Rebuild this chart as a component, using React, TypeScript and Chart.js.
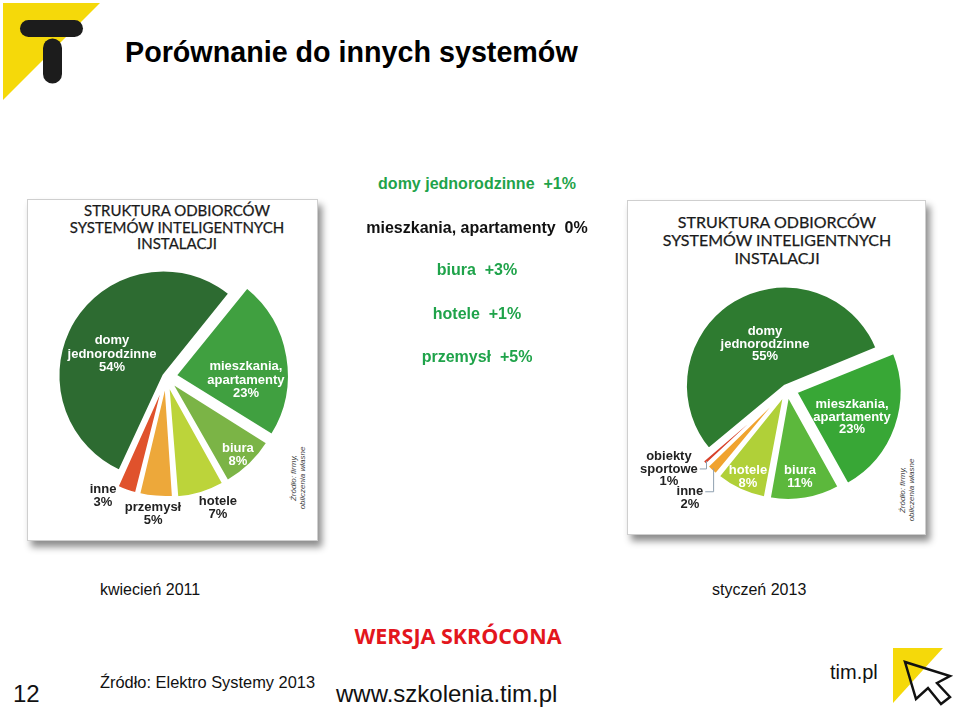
import React, { useEffect, useRef } from "react";
import { Chart, registerables } from "chart.js";
Chart.register(...registerables);

// ---------- DATA ----------
const leftCategories = ["mieszkania, apartamenty", "biura", "hotele", "przemysł", "inne", "domy jednorodzinne"];
const leftValues = [23, 8, 7, 5, 3, 54];

const rightCategories = ["mieszkania, apartamenty", "biura", "hotele", "inne", "obiekty sportowe", "domy jednorodzinne"];
const rightValues = [23, 11, 8, 2, 1, 55];

const changeCategories = ["domy jednorodzinne", "mieszkania, apartamenty", "biura", "hotele", "przemysł"];
const changeValues = ["+1%", "0%", "+3%", "+1%", "+5%"];

const leftCaption = "kwiecień 2011";
const rightCaption = "styczeń 2013";

// ---------- STYLES ----------
const leftColors = ["#40a040", "#7bb446", "#bcd43a", "#eda83a", "#e0522c", "#2d6b31"];
const rightColors = ["#38a736", "#5cb83c", "#b0d038", "#f0a32e", "#d8412a", "#2e7b30"];
const changeColors = ["#1fa34a", "#111111", "#1fa34a", "#1fa34a", "#1fa34a"];

type PieStyle = {
  rotation: number;
  radiusPx: number[];
  shiftPx: number[];
  labelDist: number[];
  labelShift: number[];
  labelColor: string[];
  leader: number[];
  lineHeight: number;
};

const leftStyle: PieStyle = {
  rotation: 39,
  radiusPx: [113, 113, 113, 113, 113, 105],
  shiftPx: [10, 8, 8, 7, 7, 3],
  labelDist: [80, 106, 141, 137.6, 134.6, 58.7],
  labelShift: [11.7, 1.1, -4.8, 0.6, 8.7, -8.7],
  labelColor: ["#fff", "#fff", "#222", "#222", "#222", "#fff"],
  leader: [-1, -1, -1, -1, -1, -1],
  lineHeight: 13.5,
};

const rightStyle: PieStyle = {
  rotation: 68,
  radiusPx: [105, 104, 104, 104, 104, 99],
  shiftPx: [10, 7, 7, 7, 7, 4],
  labelDist: [70.8, 89, 96.3, 146, 142.6, 50],
  labelShift: [3.9, 1, -0.9, -1.1, 7.7, 4.9],
  labelColor: ["#fff", "#fff", "#fff", "#222", "#222", "#fff"],
  leader: [-1, -1, -1, 0, 1, -1],
  lineHeight: 12.5,
};

function splitLabel(name: string, value: number): string[] {
  const lines = name.indexOf(" ") >= 0 ? name.split(" ") : [name];
  return [...lines, value + "%"];
}

function makeLabelPlugin(style: PieStyle, lines: string[][]) {
  return {
    id: "pieLabels",
    afterDatasetUpdate(chart: any, args: any) {
      const meta = chart.getDatasetMeta(args.index);
      meta.data.forEach((el: any, i: number) => {
        const c = el.circumference || 0;
        const fix = 1 - Math.sin(Math.min(Math.PI, c));
        el.outerRadius = style.radiusPx[i] - style.shiftPx[i] * fix;
      });
    },
    afterDatasetsDraw(chart: any) {
      const ctx = chart.ctx;
      const meta = chart.getDatasetMeta(0);
      meta.data.forEach((el: any, i: number) => {
        const { x, y, startAngle, endAngle } = el;
        const mid = (startAngle + endAngle) / 2;
        const a = mid + (style.labelShift[i] * Math.PI) / 180;
        const r = style.labelDist[i];
        const lx = x + Math.cos(a) * r;
        const ly = y + Math.sin(a) * r;
        const ls = lines[i];
        const lh = style.lineHeight;
        ctx.save();
        ctx.font = 'bold 13px "Liberation Sans", Arial, sans-serif';
        ctx.fillStyle = style.labelColor[i];
        ctx.textAlign = "center";
        ctx.textBaseline = "middle";
        const top = ly - ((ls.length - 1) * lh) / 2;
        ls.forEach((t, k) => ctx.fillText(t, lx, top + k * lh));
        const li = style.leader[i];
        if (li >= 0) {
          const w = ctx.measureText(ls[li]).width;
          const sx = lx + w / 2 + 2;
          const sy = top + li * lh;
          const reach = style.radiusPx[i] + style.shiftPx[i] - 3;
          const tx = x + Math.cos(mid) * reach;
          const ty = y + Math.sin(mid) * reach;
          ctx.strokeStyle = "#8fa0b0";
          ctx.lineWidth = 1;
          ctx.beginPath();
          ctx.moveTo(sx, sy);
          ctx.lineTo(tx, sy);
          ctx.lineTo(tx, ty);
          ctx.stroke();
        }
        ctx.restore();
      });
    },
  };
}

function PieCanvas(props: {
  categories: string[];
  values: number[];
  colors: string[];
  style: PieStyle;
  left: number;
  top: number;
  size: number;
}) {
  const ref = useRef<HTMLCanvasElement | null>(null);
  useEffect(() => {
    if (!ref.current) return;
    const lines = props.categories.map((c, i) => splitLabel(c, props.values[i]));
    const chart = new Chart(ref.current, {
      type: "pie",
      data: {
        labels: props.categories,
        datasets: [
          {
            data: props.values,
            backgroundColor: props.colors,
            borderColor: "#ffffff",
            borderWidth: 2,
            offset: props.style.shiftPx.map((s) => s * 4),
          } as any,
        ],
      },
      options: {
        responsive: false,
        animation: false,
        events: [],
        rotation: props.style.rotation,
        radius: Math.max(...props.style.radiusPx),
        layout: { padding: 0 },
        plugins: { legend: { display: false }, tooltip: { enabled: false } },
      } as any,
      plugins: [makeLabelPlugin(props.style, lines) as any],
    });
    return () => chart.destroy();
  }, []);
  return (
    <canvas
      ref={ref}
      width={props.size}
      height={props.size}
      style={{ position: "absolute", left: props.left, top: props.top, width: props.size, height: props.size }}
    />
  );
}

const abs = (o: React.CSSProperties): React.CSSProperties => ({ position: "absolute", ...o });

function Frame(props: { left: number; top: number; width: number; height: number }) {
  return (
    <div
      style={abs({
        left: props.left,
        top: props.top,
        width: props.width,
        height: props.height,
        background: "#fff",
        border: "1px solid #cfcfcf",
        boxShadow: "4px 6px 7px rgba(0,0,0,0.45)",
      })}
    />
  );
}

function FrameTitle(props: { cx: number; top: number; size: number; lh: number }) {
  return (
    <div
      style={abs({
        left: props.cx - 150,
        top: props.top,
        width: 300,
        textAlign: "center",
        fontFamily: "Lato, 'Open Sans', sans-serif",
        fontSize: props.size,
        lineHeight: props.lh + "px",
        color: "#1a1a1a",
        WebkitTextStroke: "0.25px #1a1a1a",
      })}
    >
      STRUKTURA ODBIORCÓW
      <br />
      SYSTEMÓW INTELIGENTNYCH
      <br />
      INSTALACJI
    </div>
  );
}

function SourceNote(props: { cx: number; cy: number }) {
  return (
    <div
      style={abs({
        left: props.cx - 45,
        top: props.cy - 10,
        width: 90,
        height: 20,
        transform: "rotate(-90deg)",
        transformOrigin: "50% 50%",
        fontFamily: "'Liberation Sans', Arial, sans-serif",
        fontStyle: "italic",
        fontSize: 8,
        lineHeight: "9px",
        color: "#444",
        textAlign: "center",
      })}
    >
      Źródło: firmy,
      <br />
      obliczenia własne
    </div>
  );
}

export default function App() {
  const changeY = [184, 228, 270, 314, 357];
  return (
    <div
      style={{
        position: "absolute",
        left: 0,
        top: 0,
        width: 959,
        height: 715,
        background: "#fff",
        overflow: "hidden",
        fontFamily: "'Liberation Sans', Arial, sans-serif",
      }}
    >
      {/* top-left logo */}
      <svg style={abs({ left: 0, top: 0 })} width={110} height={110}>
        <polygon points="3,3 100,3 3,100" fill="#f5d90a" />
        <line x1={28.5} y1={28.5} x2={74.5} y2={28.5} stroke="#1c1c1c" strokeWidth={17} strokeLinecap="round" />
        <line x1={52.5} y1={48} x2={52.5} y2={74} stroke="#1c1c1c" strokeWidth={19} strokeLinecap="round" />
      </svg>

      <div style={abs({ left: 125, top: 36, fontSize: 28.7, lineHeight: "32px", fontWeight: "bold", color: "#000", whiteSpace: "nowrap" })}>
        Porównanie do innych systemów
      </div>

      {/* frames */}
      <Frame left={27} top={199} width={289} height={340} />
      <Frame left={627} top={200} width={297} height={333} />
      <FrameTitle cx={177} top={202} size={15} lh={16.5} />
      <FrameTitle cx={777} top={213} size={16} lh={18} />
      <SourceNote cx={299} cy={478} />
      <SourceNote cx={908} cy={490} />

      <PieCanvas categories={leftCategories} values={leftValues} colors={leftColors} style={leftStyle} left={1} top={212} size={330} />
      <PieCanvas categories={rightCategories} values={rightValues} colors={rightColors} style={rightStyle} left={622} top={224} size={330} />

      {/* middle change list */}
      {changeCategories.map((c, i) => (
        <div
          key={c}
          style={abs({
            left: 277,
            top: changeY[i] - 10,
            width: 400,
            textAlign: "center",
            fontSize: 16,
            lineHeight: "20px",
            fontWeight: "bold",
            color: changeColors[i],
            whiteSpace: "pre",
          })}
        >
          {c + "  " + changeValues[i]}
        </div>
      ))}

      {/* captions */}
      <div style={abs({ left: 100, top: 580, fontSize: 16, lineHeight: "20px", color: "#111", whiteSpace: "nowrap" })}>{leftCaption}</div>
      <div style={abs({ left: 712, top: 580, fontSize: 16, lineHeight: "20px", color: "#111", whiteSpace: "nowrap" })}>{rightCaption}</div>

      {/* footer */}
      <div
        style={abs({
          left: 258,
          top: 622,
          width: 400,
          textAlign: "center",
          fontFamily: "'Open Sans', sans-serif",
          fontWeight: 700,
          fontSize: 21.5,
          lineHeight: "28px",
          color: "#e3161d",
        })}
      >
        WERSJA SKRÓCONA
      </div>
      <div style={abs({ left: 13, top: 680, fontSize: 24, lineHeight: "28px", color: "#111" })}>12</div>
      <div style={abs({ left: 100, top: 672, fontSize: 16.4, lineHeight: "20px", color: "#111", whiteSpace: "nowrap" })}>
        Źródło: Elektro Systemy 2013
      </div>
      <div style={abs({ left: 336, top: 680, fontSize: 24, lineHeight: "28px", color: "#111", whiteSpace: "nowrap" })}>
        www.szkolenia.tim.pl
      </div>
      <div style={abs({ left: 830, top: 660, fontSize: 20, lineHeight: "24px", color: "#111", whiteSpace: "nowrap" })}>tim.pl</div>

      {/* bottom-right cursor logo */}
      <svg style={abs({ left: 880, top: 640 })} width={79} height={75}>
        <polygon points="13,8 63,8 13,63" fill="#f5d90a" />
        <polygon
          points="25,22 36,59 48,48 61,64 70,57 57,43 70,36"
          fill="none"
          stroke="#111"
          strokeWidth={2.5}
          strokeLinejoin="miter"
        />
      </svg>
    </div>
  );
}
